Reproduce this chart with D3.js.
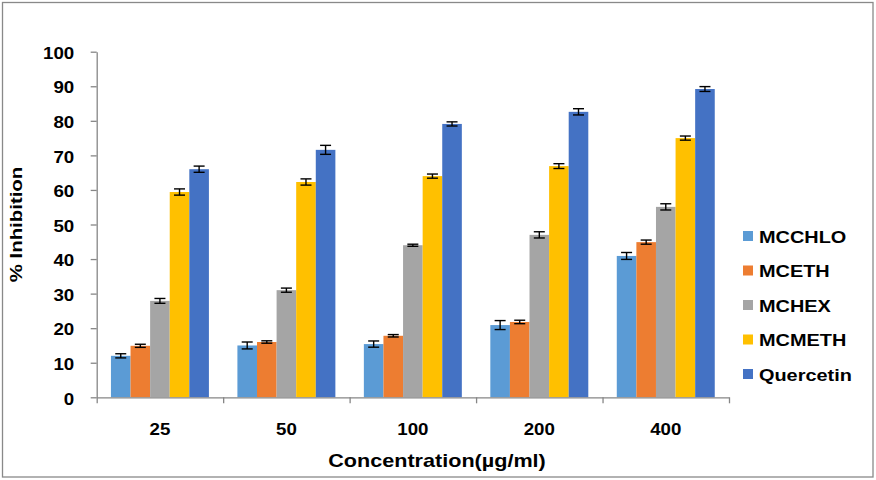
<!DOCTYPE html>
<html lang="en">
<head>
    <meta charset="UTF-8">
    <title>% Inhibition by Concentration</title>
    <script src="https://d3js.org/d3.v7.min.js"></script>
    <style>
        body { margin: 0; background: #fff; }
        svg text { font-family: "Liberation Sans", Arial, sans-serif; font-weight: bold; fill: #000; }
    </style>
</head>
<body>
    <svg id="chart" width="876" height="480"></svg>
    <script>
        const categories = ['25', '50', '100', '200', '400'];
        const series = ['MCCHLO', 'MCETH', 'MCHEX', 'MCMETH', 'Quercetin'];
        const colors = ['#5B9BD5', '#ED7D31', '#A5A5A5', '#FFC000', '#4472C4'];
        const yTicks = [0, 10, 20, 30, 40, 50, 60, 70, 80, 90, 100];

        // mean values, one array per series (order follows categories)
        const MCCHLO    = [12.0, 15.0, 15.4, 20.9, 40.9];
        const MCETH     = [14.9, 16.0, 17.8, 21.8, 44.9];
        const MCHEX     = [27.9, 31.0, 44.0, 47.0, 55.1];
        const MCMETH    = [59.4, 62.3, 64.0, 66.9, 75.0];
        const Quercetin = [66.0, 71.6, 79.1, 82.6, 89.2];

        // error (+/-) per series
        const MCCHLOErr    = [0.6, 1.0, 0.9, 1.3, 1.0];
        const MCETHErr     = [0.45, 0.35, 0.35, 0.5, 0.6];
        const MCHEXErr     = [0.7, 0.6, 0.3, 0.9, 0.9];
        const MCMETHErr    = [0.9, 0.9, 0.6, 0.7, 0.6];
        const QuercetinErr = [0.9, 1.3, 0.6, 0.9, 0.7];

        const values = [MCCHLO, MCETH, MCHEX, MCMETH, Quercetin];
        const errors = [MCCHLOErr, MCETHErr, MCHEXErr, MCMETHErr, QuercetinErr];

        const data = [];
        categories.forEach((c, i) => {
            series.forEach((s, j) => {
                data.push({ cat: c, key: s, value: values[j][i], err: errors[j][i], color: colors[j] });
            });
        });

        const svg = d3.select('#chart');
        const plotLeft = 96.7, plotRight = 729, plotTop = 51.7, plotBottom = 397.3;
        const stretch = 1.17;  // the original text is a bit wider than Arial

        // outer frame
        svg.append('rect')
            .attr('x', 2.5).attr('y', 2.5)
            .attr('width', 870.5).attr('height', 474.5)
            .attr('fill', 'none')
            .attr('stroke', '#898989')
            .attr('stroke-width', 1.3);

        const x0 = d3.scaleBand().domain(categories).range([plotLeft, plotRight]).paddingInner(0).paddingOuter(0);
        const x1 = d3.scaleBand().domain(series).range([0, x0.bandwidth()]).paddingInner(0).paddingOuter(0.727);
        const y = d3.scaleLinear().domain([0, 100]).range([plotBottom, plotTop]);

        // bars
        svg.append('g').selectAll('rect')
            .data(data)
            .join('rect')
            .attr('x', d => x0(d.cat) + x1(d.key))
            .attr('y', d => y(d.value))
            .attr('width', x1.bandwidth())
            .attr('height', d => y(0) - y(d.value))
            .attr('fill', d => d.color);

        // error bars
        const eb = svg.append('g').attr('stroke', '#000').attr('stroke-width', 1.4);
        const cap = 5.5;
        data.forEach(d => {
            const cx = x0(d.cat) + x1(d.key) + x1.bandwidth() / 2;
            const y1 = y(d.value + d.err), y2 = y(d.value - d.err);
            eb.append('line').attr('x1', cx).attr('x2', cx).attr('y1', y1).attr('y2', y2);
            eb.append('line').attr('x1', cx - cap).attr('x2', cx + cap).attr('y1', y1).attr('y2', y1);
            eb.append('line').attr('x1', cx - cap).attr('x2', cx + cap).attr('y1', y2).attr('y2', y2);
        });

        // y axis
        const yAxis = svg.append('g')
            .attr('transform', `translate(${plotLeft},0)`)
            .call(d3.axisLeft(y).tickValues(yTicks).tickSize(6).tickSizeOuter(0));
        yAxis.select('.domain').attr('stroke', '#868686').attr('stroke-width', 1.3);
        yAxis.selectAll('.tick line').attr('stroke', '#868686').attr('stroke-width', 1.3);
        yAxis.selectAll('.tick text')
            .attr('x', -22.5 / stretch)
            .attr('dy', '0.42em')
            .attr('transform', `scale(${stretch},1)`)
            .style('font-size', '16px')
            .style('font-family', '"Liberation Sans", Arial, sans-serif')
            .style('font-weight', 'bold');

        // x axis: labels at band centres
        const xAxis = svg.append('g')
            .attr('transform', `translate(0,${plotBottom})`)
            .call(d3.axisBottom(x0).tickSize(0).tickSizeOuter(0));
        xAxis.select('.domain').attr('stroke', '#868686').attr('stroke-width', 1.3);
        xAxis.selectAll('.tick text')
            .attr('y', 37.6)
            .attr('dy', 0)
            .attr('x', 0)
            .attr('transform', `scale(${stretch},1)`)
            .style('font-size', '16px')
            .style('font-family', '"Liberation Sans", Arial, sans-serif')
            .style('font-weight', 'bold');

        // x axis: tick marks at category boundaries
        const xb = d3.scaleLinear().domain([0, categories.length]).range([plotLeft, plotRight]);
        const xTicks = svg.append('g')
            .attr('transform', `translate(0,${plotBottom})`)
            .call(d3.axisBottom(xb).ticks(categories.length).tickFormat('').tickSize(6).tickSizeOuter(0));
        xTicks.select('.domain').remove();
        xTicks.selectAll('.tick line').attr('stroke', '#868686').attr('stroke-width', 1.3);

        // axis titles
        svg.append('text')
            .attr('transform', `translate(437,467) scale(1.2,1)`)
            .attr('text-anchor', 'middle')
            .style('font-size', '18px')
            .text('Concentration(µg/ml)');

        svg.append('text')
            .attr('transform', `translate(22,224.5) rotate(-90) scale(1.2,1)`)
            .attr('text-anchor', 'middle')
            .style('font-size', '17px')
            .text('% Inhibition');

        // legend
        const legend = svg.append('g');
        series.forEach((s, i) => {
            const cy = 236 + i * 34.5;
            legend.append('rect')
                .attr('x', 743).attr('y', cy - 5)
                .attr('width', 10).attr('height', 10)
                .attr('fill', colors[i]);
            legend.append('text')
                .attr('transform', `translate(759,${cy + 6.5}) scale(${stretch},1)`)
                .style('font-size', '17px')
                .text(s);
        });
    </script>
</body>
</html>
